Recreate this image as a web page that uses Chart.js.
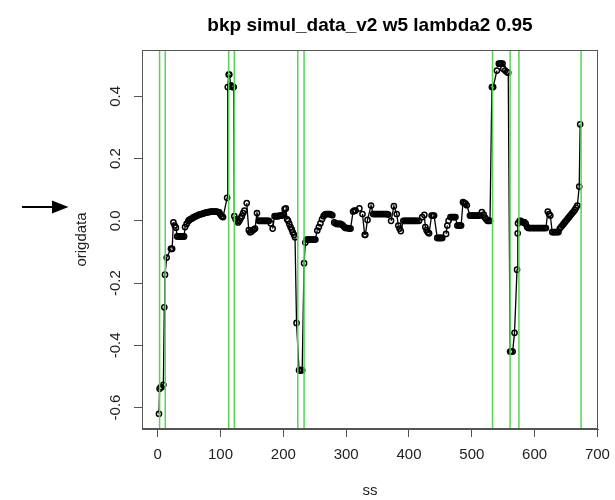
<!DOCTYPE html>
<html>
<head>
<meta charset="utf-8">
<script src="https://cdn.jsdelivr.net/npm/chart.js@4"></script>
<style>
  html, body { margin: 0; padding: 0; background: #fff; }
</style>
</head>
<body>
<canvas id="bkpChart" width="615" height="500"></canvas>
<script>
// positions (ss) and values (origdata), region by region
const ss = [
  2, 3, 4.5, 6, 9, 10.5, 11.6, 14.3, 21, 22, 23, 25,
  27, 29, 31, 33, 35, 37, 39, 41, 42, 43.5, 46, 48.7,
  50, 52, 54, 56, 58, 60, 62, 64, 66, 68, 70, 72,
  74, 76, 78, 80, 82, 84, 86, 88, 90, 92, 94, 96,
  98, 100, 102, 104,
  110.5, 111.5, 113, 114, 116.5, 118, 119.5, 121, 122,
  124, 126, 128, 130, 132, 134, 136, 138, 141.7, 145, 147, 149,
  151, 153, 155, 158, 161, 163, 165, 167, 169, 171, 173, 175,
  177, 180, 183, 186, 188, 190, 192, 194, 196, 198, 200, 202,
  204, 206, 207.5, 209.5, 211.5, 213.5, 215, 217, 218.6, 221,
  225, 226, 227, 228, 230,
  233, 235, 237, 239, 241, 243, 245, 247, 249, 251, 254, 256.5,
  259, 261.5, 264, 266, 268, 270, 272, 274, 276, 278, 281, 283,
  285, 287, 289, 291, 293, 295, 297, 299, 301, 303, 305, 307,
  311, 313, 315, 321, 326, 329.5, 330.5, 334, 339.6,
  343, 345, 347, 349, 351, 353, 355, 357, 359, 361, 363, 365,
  367, 371.5, 376, 380.5, 383, 385, 387, 391, 393, 395, 397, 399,
  401, 403, 405, 407, 409, 411, 413, 416, 421, 424.5, 426, 428,
  430, 432, 436, 438, 440, 445, 447, 449, 451, 453, 459, 461,
  463, 466, 468, 470, 472, 474, 477, 479, 481, 483, 486, 488,
  490, 492, 497, 499, 501, 503, 505, 507, 509, 511, 513, 516,
  519, 521, 523, 525, 527, 529,
  532, 534, 540, 543, 545, 547, 549, 550, 553, 556, 558,
  561, 563, 565, 568, 572, 573, 573.5,
  576, 578, 580, 582, 584, 586, 588, 590, 592, 594, 596, 598,
  600, 602, 604, 606, 608, 610, 612, 614, 616, 618, 621, 623,
  625, 628, 630, 632, 634, 636, 638, 640, 642, 644, 646, 648,
  650, 652, 654, 656, 658, 660, 662, 664, 666, 668, 671, 672.5
];
const origdata = [
  -0.62, -0.54, -0.535, -0.535, -0.527, -0.278, -0.173, -0.118, -0.09, -0.09, -0.09, -0.005,
  -0.015, -0.022, -0.05, -0.05, -0.05, -0.05, -0.05, -0.05, -0.05, -0.02, -0.01, -0.001,
  0.003, 0.005, 0.007, 0.01, 0.012, 0.014, 0.016, 0.018, 0.02, 0.021, 0.022, 0.023,
  0.025, 0.026, 0.027, 0.028, 0.028, 0.03, 0.03, 0.03, 0.03, 0.03, 0.03, 0.028,
  0.027, 0.02, 0.015, 0.012,
  0.074, 0.43, 0.47, 0.47, 0.435, 0.432, 0.43, 0.43, 0.015,
  0.005, 0, -0.005, 0, 0.008, 0.015, 0.025, 0.033, 0.057, -0.03, -0.037, -0.035,
  -0.03, -0.028, -0.025, 0.025, 0, 0, 0, 0, 0, 0, 0, 0,
  0, -0.008, -0.025, 0.015, 0.015, 0.015, 0.015, 0.017, 0.017, 0.017, 0.02, 0.038,
  0.04, 0.005, 0, -0.01, -0.02, -0.028, -0.037, -0.045, -0.053, -0.328,
  -0.48, -0.48, -0.48, -0.48, -0.48,
  -0.136, -0.07, -0.06, -0.06, -0.06, -0.06, -0.06, -0.06, -0.06, -0.06, -0.031, -0.02,
  -0.008, 0.005, 0.015, 0.02, 0.022, 0.022, 0.022, 0.022, 0.02, 0.018, -0.005, -0.008,
  -0.01, -0.01, -0.01, -0.01, -0.012, -0.015, -0.02, -0.023, -0.023, -0.023, -0.025, -0.025,
  0.03, 0.033, 0.033, 0.04, 0.022, -0.045, -0.045, 0.003, 0.049,
  0.022, 0.022, 0.022, 0.022, 0.022, 0.022, 0.022, 0.022, 0.022, 0.022, 0.022, 0.022,
  0.02, 0, 0.047, 0.022, -0.015, -0.025, -0.033, 0, 0, 0, 0, 0,
  0, 0, 0, 0, 0, 0, 0, 0, 0.012, 0.019, -0.02, -0.03,
  -0.037, -0.04, 0.017, 0.017, 0.017, -0.055, -0.055, -0.055, -0.055, -0.055, -0.042, -0.015,
  0, 0.012, 0.012, 0.012, 0.012, 0.012, -0.015, -0.015, -0.015, -0.015, 0.06, 0.058,
  0.055, 0.05, 0.017, 0.017, 0.017, 0.017, 0.017, 0.017, 0.017, 0.017, 0.017, 0.028,
  0.02, 0.01, 0.005, 0, 0, 0,
  0.43, 0.43, 0.483, 0.505, 0.505, 0.505, 0.505, 0.489, 0.483, 0.478, 0.476,
  -0.42, -0.42, -0.42, -0.36, -0.157, -0.04, -0.008,
  0, 0, -0.003, -0.005, -0.005, -0.01, -0.02, -0.023, -0.023, -0.023, -0.023, -0.023,
  -0.023, -0.023, -0.023, -0.023, -0.023, -0.023, -0.023, -0.023, -0.023, -0.023, 0.03, 0.022,
  0.017, -0.036, -0.036, -0.036, -0.036, -0.036, -0.036, -0.025, -0.02, -0.015, -0.01, -0.005,
  0, 0.005, 0.01, 0.015, 0.02, 0.025, 0.03, 0.035, 0.042, 0.049, 0.11, 0.31
];
// green vertical lines (breakpoints)
const breakpoints = [3, 12, 113, 122, 223, 233, 533, 561, 575, 674];
const xTicks = [0, 100, 200, 300, 400, 500, 600, 700];
const yTicks = [-0.6, -0.4, -0.2, 0, 0.2, 0.4];

const fontFamily = '"Liberation Sans", Arial, sans-serif';
const textColor = '#222';
const axisColor = '#555';
const titleText = 'bkp simul_data_v2 w5 lambda2 0.95';

// like R type="b": short joins between neighbouring points vanish behind the gaps
const joinColor = c => Math.hypot(c.p1.x - c.p0.x, c.p1.y - c.p0.y) < 8 ? 'rgba(0,0,0,0)' : '#000';

const decorations = {
  id: 'decorations',
  afterDatasetsDraw(chart) {
    const { ctx, chartArea: a, scales: { x } } = chart;
    ctx.save();
    ctx.strokeStyle = 'rgb(90,210,90)';
    ctx.lineWidth = 1.5;
    breakpoints.forEach(b => {
      const px = x.getPixelForValue(b);
      ctx.beginPath();
      ctx.moveTo(px, a.top);
      ctx.lineTo(px, a.bottom);
      ctx.stroke();
    });
    ctx.strokeStyle = axisColor;
    ctx.lineWidth = 1;
    ctx.strokeRect(Math.round(a.left) + 0.5, Math.round(a.top) + 0.5,
      Math.round(a.width) - 1, Math.round(a.height) - 1);
    ctx.restore();
  },
  afterDraw(chart) {
    const { ctx, chartArea: a } = chart;
    ctx.save();
    ctx.fillStyle = '#000';
    ctx.font = 'bold 19px ' + fontFamily;
    ctx.textAlign = 'center';
    ctx.textBaseline = 'alphabetic';
    ctx.fillText(titleText, (a.left + a.right) / 2, 31);
    // arrow pointing at the plot
    ctx.strokeStyle = '#000';
    ctx.lineWidth = 2;
    ctx.beginPath();
    ctx.moveTo(22, 207);
    ctx.lineTo(55, 207);
    ctx.stroke();
    ctx.beginPath();
    ctx.moveTo(52, 200.5);
    ctx.lineTo(68.5, 207);
    ctx.lineTo(52, 213.5);
    ctx.closePath();
    ctx.fill();
    ctx.restore();
  }
};

new Chart(document.getElementById('bkpChart'), {
  type: 'scatter',
  data: {
    datasets: [{
      data: ss.map((x, i) => ({ x, y: origdata[i] })),
      showLine: true,
      borderColor: '#000',
      borderWidth: 1.3,
      segment: { borderColor: joinColor },
      pointRadius: 2.6,
      pointBorderWidth: 1.5,
      pointBorderColor: '#000',
      pointBackgroundColor: 'rgba(0,0,0,0)',
      pointStyle: 'circle'
    }]
  },
  options: {
    responsive: false,
    animation: false,
    events: [],
    layout: { padding: { top: 50, right: 17, bottom: 0, left: 0 } },
    plugins: {
      legend: { display: false },
      tooltip: { enabled: false }
    },
    scales: {
      x: {
        type: 'linear',
        min: -25,
        max: 700.9,
        afterBuildTicks: s => { s.ticks = xTicks.map(v => ({ value: v })); },
        afterFit: s => { s.height = 71; s.paddingLeft = 0; s.paddingRight = 0; },
        grid: { drawOnChartArea: false, drawTicks: true, tickLength: 8, color: axisColor, tickColor: axisColor },
        border: { display: true, color: axisColor },
        ticks: {
          color: textColor,
          font: { family: fontFamily, size: 15 },
          padding: 9,
          maxRotation: 0,
          autoSkip: false
        },
        title: {
          display: true,
          text: 'ss',
          color: textColor,
          font: { family: fontFamily, size: 15 },
          padding: { top: 0, bottom: 0 }
        }
      },
      y: {
        type: 'linear',
        min: -0.669,
        max: 0.549,
        afterBuildTicks: s => { s.ticks = yTicks.map(v => ({ value: v })); },
        afterFit: s => { s.width = 142; s.paddingTop = 0; s.paddingBottom = 0; },
        grid: { drawOnChartArea: false, drawTicks: true, tickLength: 8, color: axisColor, tickColor: axisColor },
        border: { display: true, color: axisColor },
        ticks: {
          color: textColor,
          font: { family: fontFamily, size: 15 },
          padding: 5,
          minRotation: 90,
          maxRotation: 90,
          crossAlign: 'center',
          autoSkip: false,
          callback: v => v.toFixed(1)
        },
        title: {
          display: true,
          text: 'origdata',
          color: textColor,
          font: { family: fontFamily, size: 15 },
          padding: { top: 73, bottom: 0 }
        }
      }
    }
  },
  plugins: [decorations]
});
</script>
</body>
</html>
